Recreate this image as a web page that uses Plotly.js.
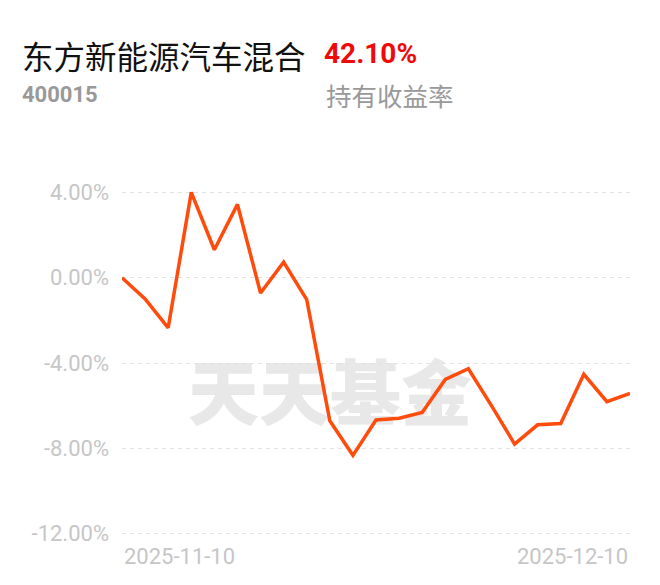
<!DOCTYPE html>
<html>
<head>
<meta charset="utf-8">
<script src="https://cdn.plot.ly/plotly-3.0.1.min.js"></script>
<style>
  html, body { margin: 0; padding: 0; background: #ffffff; }
  #chart { width: 660px; height: 585px; }
</style>
</head>
<body>
<div id="chart"></div>
<script>
// ---- data ----
const dates = [
  "2025-11-10","2025-11-11","2025-11-12","2025-11-13","2025-11-14",
  "2025-11-17","2025-11-18","2025-11-19","2025-11-20","2025-11-21",
  "2025-11-24","2025-11-25","2025-11-26","2025-11-27","2025-11-28",
  "2025-12-01","2025-12-02","2025-12-03","2025-12-04","2025-12-05",
  "2025-12-08","2025-12-09","2025-12-10"
];
const returnsPct = [
  0.00, -1.00, -2.35, 4.00, 1.31,
  3.44, -0.72, 0.73, -1.03, -6.71,
  -8.33, -6.67, -6.59, -6.32, -4.77,
  -4.27, -6.00, -7.80, -6.90, -6.84,
  -4.53, -5.81, -5.43
];
const yTickVals = [4, 0, -4, -8, -12];
const yTickLabels = ["4.00%", "0.00%", "-4.00%", "-8.00%", "-12.00%"];
const fundName = "东方新能源汽车混合";
const fundCode = "400015";
const holdReturn = "42.10%";
const holdReturnLabel = "持有收益率";
const watermark = "天天基金";

const trace = {
  x: dates,
  y: returnsPct,
  type: "scatter",
  mode: "lines",
  line: { color: "#ff4b0b", width: 3.5, shape: "linear" },
  hoverinfo: "skip"
};

const tickFont = { family: "Roboto, sans-serif", size: 22, color: "#c6c6c6" };

const layout = {
  width: 660,
  height: 585,
  margin: { l: 122, r: 30, t: 186, b: 45 },
  paper_bgcolor: "#ffffff",
  plot_bgcolor: "#ffffff",
  showlegend: false,
  xaxis: {
    type: "category",
    range: [0, dates.length - 1],
    showgrid: false,
    zeroline: false,
    showline: false,
    showticklabels: false,
    ticks: "",
    fixedrange: true
  },
  yaxis: {
    range: [-12.3, 4.3],
    tickvals: yTickVals,
    ticktext: yTickLabels,
    tickfont: tickFont,
    ticks: "",
    ticklabelstandoff: 12,
    showgrid: true,
    gridcolor: "#e2e2e2",
    gridwidth: 1,
    griddash: "4px,4px",
    zeroline: false,
    showline: false,
    fixedrange: true
  },
  shapes: [
    {
      type: "rect", xref: "paper", yref: "paper",
      x0: 0.1339, x1: 0.685, y0: 0.312, y1: 0.482,
      line: { width: 0 }, fillcolor: "rgba(0,0,0,0)",
      layer: "below",
      label: {
        text: watermark,
        textposition: "middle center",
        font: { family: "Noto Sans CJK SC", size: 71, color: "#e8e8e8", weight: 900 }
      }
    }
  ],
  annotations: [
    {
      text: fundName, xref: "paper", yref: "paper",
      x: -0.2008, y: 1.371, xanchor: "left", yanchor: "middle", showarrow: false,
      font: { family: "Noto Sans CJK SC", size: 31.5, color: "#111111" }
    },
    {
      text: "<b>" + holdReturn + "</b>", xref: "paper", yref: "paper",
      x: 0.3937, y: 1.374, xanchor: "left", yanchor: "middle", showarrow: false,
      font: { family: "Roboto, sans-serif", size: 28, color: "#ee0a0a" }
    },
    {
      text: "<b>" + fundCode + "</b>", xref: "paper", yref: "paper",
      x: -0.2008, y: 1.2571, xanchor: "left", yanchor: "middle", showarrow: false,
      font: { family: "Roboto, sans-serif", size: 22, color: "#999999" }
    },
    {
      text: holdReturnLabel, xref: "paper", yref: "paper",
      x: 0.3976, y: 1.258, xanchor: "left", yanchor: "middle", showarrow: false,
      font: { family: "Noto Sans CJK SC", size: 25.5, color: "#999999" }
    },
    {
      text: dates[0], xref: "x", yref: "paper",
      x: dates[0], y: -0.048, xanchor: "left", yanchor: "middle", showarrow: false,
      font: tickFont
    },
    {
      text: dates[dates.length - 1], xref: "x", yref: "paper",
      x: dates[dates.length - 1], y: -0.048, xanchor: "right", yanchor: "middle", showarrow: false,
      font: tickFont
    }
  ]
};

Plotly.newPlot("chart", [trace], layout, { staticPlot: true, displayModeBar: false });
</script>
</body>
</html>
